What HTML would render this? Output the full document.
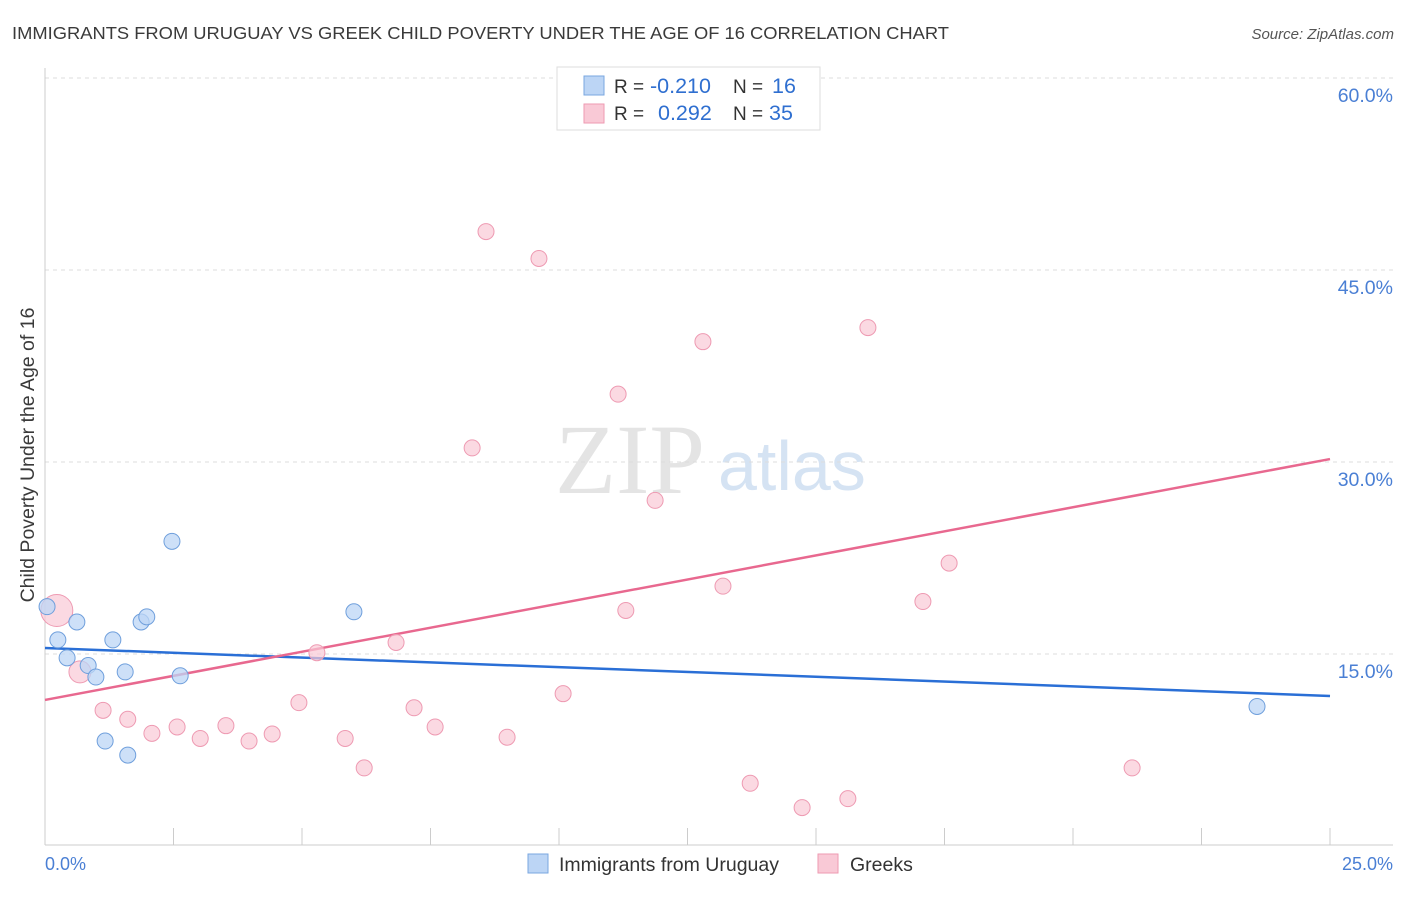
<!DOCTYPE html>
<html><head><meta charset="utf-8"><style>
body{margin:0;background:#fff;font-family:"Liberation Sans",sans-serif}
</style></head><body>
<svg width="1406" height="892" xmlns="http://www.w3.org/2000/svg" font-family="Liberation Sans, sans-serif">
<text x="12" y="39" font-size="17.5" fill="#3a3a3a" textLength="937" lengthAdjust="spacingAndGlyphs">IMMIGRANTS FROM URUGUAY VS GREEK CHILD POVERTY UNDER THE AGE OF 16 CORRELATION CHART</text>
<text x="1394" y="39" font-size="15" fill="#555" font-style="italic" text-anchor="end">Source: ZipAtlas.com</text>
<text x="555" y="493" font-size="100" fill="#e4e4e4" font-family="Liberation Serif, serif">ZIP</text>
<text x="718" y="490" font-size="70" fill="#d5e3f3">atlas</text>
<g id="grid"></g>
<line x1="45" y1="68" x2="45" y2="845" stroke="#ccc"/>
<line x1="45" y1="845" x2="1393" y2="845" stroke="#ccc"/>
<text transform="translate(34,455) rotate(-90)" font-size="19.5" fill="#3a3a3a" text-anchor="middle">Child Poverty Under the Age of 16</text>
<text x="45" y="870" font-size="18" fill="#4a7fd4">0.0%</text>
<text x="1393" y="870" font-size="18" fill="#4a7fd4" text-anchor="end">25.0%</text>
<g id="lines"></g><g id="pts"></g>
<g>
<rect x="557" y="67" width="263" height="63" fill="#fff" stroke="#ddd"/>
<rect x="584" y="76" width="20" height="19" fill="#bcd5f5" stroke="#7aa7e0"/>
<rect x="584" y="104" width="20" height="19" fill="#f9c9d6" stroke="#ee9ab2"/>
<text x="614" y="93" font-size="19" fill="#333">R =</text>
<text x="650" y="93" font-size="21.5" fill="#2f6fd0">-0.210</text>
<text x="733" y="93" font-size="19" fill="#333">N =</text>
<text x="772" y="93" font-size="21.5" fill="#2f6fd0">16</text>
<text x="614" y="120" font-size="19" fill="#333">R =</text>
<text x="658" y="120" font-size="21.5" fill="#2f6fd0">0.292</text>
<text x="733" y="120" font-size="19" fill="#333">N =</text>
<text x="769" y="120" font-size="21.5" fill="#2f6fd0">35</text>
</g>
<g>
<rect x="528" y="854" width="20" height="19" fill="#bcd5f5" stroke="#7aa7e0"/>
<text x="559" y="871" font-size="19.5" fill="#333">Immigrants from Uruguay</text>
<rect x="818" y="854" width="20" height="19" fill="#f9c9d6" stroke="#ee9ab2"/>
<text x="850" y="871" font-size="19.5" fill="#333">Greeks</text>
</g>
</svg>
<script>
const yTicks=[15,30,45,60];
const xTicks=[0,2.5,5,7.5,10,12.5,15,17.5,20,22.5,25];
const blueX=[0.04,0.25,0.43,0.62,0.84,0.99,1.17,1.32,1.56,1.61,1.87,1.98,2.47,2.63,6.01,23.58];
const blueY=[18.7,16.1,14.7,17.5,14.1,13.2,8.2,16.1,13.6,7.1,17.5,17.9,23.8,13.3,18.3,10.9];
const pinkX=[0.23,0.68,1.13,1.61,2.08,2.57,3.02,3.52,3.97,4.42,4.94,5.29,5.84,6.21,6.83,7.18,7.59,8.31,8.58,8.99,9.61,10.08,11.15,11.30,11.87,12.80,13.19,13.72,14.73,15.62,16.01,17.08,17.59,21.15];
const pinkY=[18.4,13.6,10.6,9.9,8.8,9.3,8.4,9.4,8.2,8.75,11.2,15.1,8.4,6.1,15.9,10.8,9.3,31.1,48.0,8.5,45.9,11.9,35.3,18.4,27.0,39.4,20.3,4.9,3.0,3.7,40.5,19.1,22.1,6.1];
const blueTrend=[15.47,11.72];
const pinkTrend=[11.41,30.23];
const NS="http://www.w3.org/2000/svg";
const sx=v=>45+v/25*1285, sy=v=>846-v/15*192;
function mk(tag,at,parent){const e=document.createElementNS(NS,tag);for(const k in at)e.setAttribute(k,at[k]);document.getElementById(parent).appendChild(e);return e;}
yTicks.forEach(t=>{
 const l=mk('line',{x1:45,x2:1393,y1:sy(t),y2:sy(t),stroke:'#ddd','stroke-dasharray':'4,4'},'grid');
 
 
 const tx=mk('text',{x:1393,y:sy(t)+24,'font-size':19.5,fill:'#4a7fd4','text-anchor':'end'},'grid');
 tx.textContent=t.toFixed(1)+'%';
 
 
});
xTicks.forEach(t=>{
 const l=mk('line',{x1:sx(t),x2:sx(t),y1:828,y2:845,stroke:'#ccc'},'grid');
 
 
});
[[blueTrend,'#2a6fd6','blue-trend-line'],[pinkTrend,'#e8688f','pink-trend-line']].forEach(([t,c,n])=>{
 const l=mk('line',{x1:sx(0),y1:sy(t[0]),x2:sx(25),y2:sy(t[1]),stroke:c,'stroke-width':2.5},'lines');
 
 
});
pinkX.forEach((x,i)=>{
 const c=mk('circle',{cx:sx(x),cy:sy(pinkY[i]),r:i==0?16:(i==1?11:8),fill:'#f9c9d6','fill-opacity':0.7,stroke:'#ee9ab2'},'pts');
 
 
});
blueX.forEach((x,i)=>{
 const c=mk('circle',{cx:sx(x),cy:sy(blueY[i]),r:8,fill:'#bcd5f5','fill-opacity':0.75,stroke:'#6f9fdc'},'pts');
 
 
});
</script>
</body></html>
